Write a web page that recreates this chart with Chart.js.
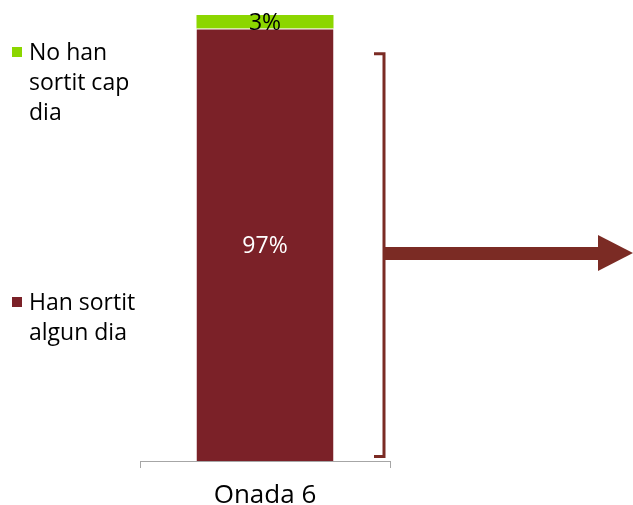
<!DOCTYPE html>
<html><head><meta charset="utf-8">
<script src="https://cdn.jsdelivr.net/npm/chart.js@4/dist/chart.umd.min.js"></script>
<style>html,body{margin:0;padding:0;background:#fff}#c{display:block}</style>
</head><body>
<canvas id="c" width="633" height="505"></canvas>
<script>
const categories = ["Onada 6"];
const seriesNames = ["Han sortit algun dia", "No han sortit cap dia"];
const legendLines = [["Han sortit", "algun dia"], ["No han", "sortit cap", "dia"]];
const valuesSortit = [97];
const valuesNoSortit = [3];
const colors = ["#7B2128", "#8CD600"];
const labelColors = ["#ffffff", "#000000"];
const FONT = "'Open Sans', 'DejaVu Sans', sans-serif";

const valueLabels = {
  id: 'valueLabels',
  afterDatasetsDraw(chart) {
    const ctx = chart.ctx;
    ctx.save();
    ctx.font = "23px " + FONT;
    ctx.textAlign = 'center';
    ctx.textBaseline = 'middle';
    chart.data.datasets.forEach((ds, i) => {
      const meta = chart.getDatasetMeta(i);
      meta.data.forEach((bar, j) => {
        const y = (bar.y + bar.base) / 2;
        ctx.fillStyle = labelColors[i];
        ctx.fillText(ds.data[j] + '%', bar.x, y + 2);
      });
    });
    ctx.restore();
  }
};

const sideLegend = {
  id: 'sideLegend',
  afterDraw(chart) {
    const ctx = chart.ctx;
    ctx.save();
    ctx.font = "23px " + FONT;
    ctx.textBaseline = 'middle';
    ctx.textAlign = 'left';
    const tops = [302, 52];
    legendLines.forEach((lines, i) => {
      ctx.fillStyle = colors[i];
      ctx.fillRect(12, tops[i] - 5, 10, 10);
      ctx.fillStyle = '#000';
      lines.forEach((t, k) => ctx.fillText(t, 29, tops[i] + 1 + k * 30));
    });
    ctx.restore();
  }
};

const bracketArrow = {
  id: 'bracketArrow',
  afterDraw(chart) {
    const ctx = chart.ctx;
    const y = chart.scales.y;
    const top = y.getPixelForValue(91.3);
    const bot = y.getPixelForValue(1);
    const xLine = 384;
    ctx.save();
    ctx.strokeStyle = '#7B2B24';
    ctx.fillStyle = '#7B2B24';
    ctx.lineWidth = 3;
    ctx.beginPath();
    ctx.moveTo(374, top);
    ctx.lineTo(xLine, top);
    ctx.lineTo(xLine, bot);
    ctx.lineTo(374, bot);
    ctx.stroke();
    const mid = 253;
    ctx.fillRect(xLine, mid - 6, 215, 13);
    ctx.beginPath();
    ctx.moveTo(598, mid - 18);
    ctx.lineTo(633, mid);
    ctx.lineTo(598, mid + 18);
    ctx.closePath();
    ctx.fill();
    ctx.restore();
  }
};

new Chart(document.getElementById('c'), {
  type: 'bar',
  data: {
    labels: categories,
    datasets: [
      { label: seriesNames[0], data: valuesSortit, backgroundColor: colors[0], borderColor: '#ffffff', borderWidth: {top: 1}, borderSkipped: false },
      { label: seriesNames[1], data: valuesNoSortit, backgroundColor: colors[1], borderColor: '#ffffff', borderWidth: 0 }
    ]
  },
  options: {
    responsive: false,
    animation: false,
    devicePixelRatio: 1,
    layout: { padding: { left: 140, right: 243, top: 15, bottom: 0 } },
    barPercentage: 0.548,
    categoryPercentage: 1,
    plugins: { legend: { display: false }, tooltip: { enabled: false } },
    scales: {
      x: {
        stacked: true,
        afterFit(scale) { scale.height = 44; },
        grid: { display: true, drawOnChartArea: false, drawTicks: true, tickLength: 7, color: '#A6A6A6', offset: true },
        border: { display: true, color: '#A6A6A6', width: 1 },
        ticks: { color: '#000', font: { size: 26, family: FONT }, padding: 12 }
      },
      y: {
        stacked: true, display: false, min: 0, max: 100
      }
    }
  },
  plugins: [valueLabels, sideLegend, bracketArrow]
});
</script>
</body></html>
